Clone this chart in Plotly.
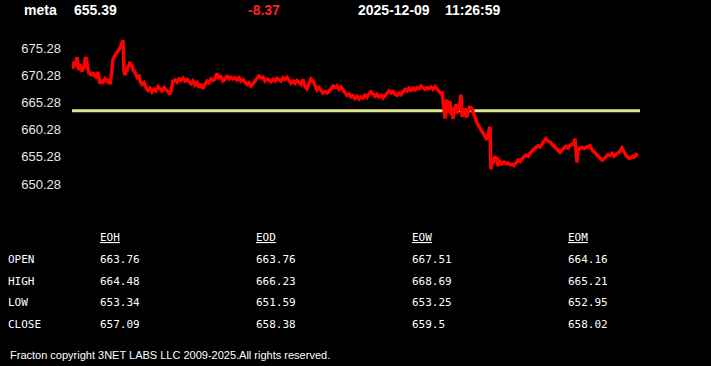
import plotly.graph_objects as go

# ---------------- data ----------------
symbol = "meta"
last_price = "655.39"
change = "-8.37"
date_str = "2025-12-09"
time_str = "11:26:59"
prev_close = 663.76

y_ticks = [650.28, 655.28, 660.28, 665.28, 670.28, 675.28]

t = [0, 1, 2, 3, 4, 5, 6, 7, 8, 9, 10, 11, 12, 13, 14, 15, 16, 17, 18, 19, 21, 23, 24, 25, 26, 27, 28, 29,
     31, 33, 35, 37, 38, 39, 40, 41, 43, 45, 47, 49, 50, 51, 52, 53, 54, 55, 56, 57, 58, 59, 60, 61, 63, 65,
     66, 67, 68, 70, 72, 74, 76, 78, 80, 82, 84, 86, 88, 90, 92, 94, 96, 98, 99, 100, 101, 103, 105, 107,
     109, 111, 113, 115, 117, 119, 121, 123, 125, 127, 129, 131, 133, 135, 137, 139, 141, 143, 145, 147,
     149, 151, 153, 155, 157, 159, 161, 163, 165, 167, 169, 171, 173, 175, 177, 179, 181, 183, 185, 187,
     189, 191, 193, 195, 197, 199, 201, 203, 205, 207, 209, 211, 213, 215, 217, 219, 221, 223, 225, 227,
     229, 231, 233, 235, 237, 239, 241, 243, 245, 247, 249, 251, 253, 255, 257, 259, 261, 263, 265, 267,
     269, 271, 273, 275, 277, 279, 281, 283, 285, 287, 289, 291, 293, 295, 297, 299, 301, 303, 305, 307,
     309, 311, 313, 315, 317, 319, 321, 323, 325, 327, 329, 331, 333, 335, 337, 339, 341, 343, 345, 347,
     349, 351, 353, 355, 357, 359, 361, 363, 365, 367, 369, 370, 371, 372, 373, 374, 375, 376, 377, 378,
     379, 380, 381, 382, 383, 384, 385, 386, 387, 388, 389, 390, 391, 392, 393, 394, 395, 396, 397, 398,
     399, 400, 401, 402, 404, 406, 408, 410, 412, 414, 415, 416, 417, 418, 419, 420, 421, 422, 423, 424,
     425, 426, 428, 430, 432, 434, 436, 438, 440, 442, 444, 446, 448, 450, 452, 454, 456, 458, 460, 462,
     464, 466, 468, 470, 472, 474, 476, 478, 480, 482, 484, 486, 488, 490, 492, 494, 496, 498, 500, 502,
     503, 504, 505, 506, 508, 510, 512, 514, 516, 518, 520, 522, 524, 526, 528, 530, 532, 534, 536, 538,
     540, 542, 544, 546, 548, 550, 552, 554, 556, 558, 560, 562, 564, 566]

price = [672.4, 671.5, 672.8, 671.9, 672.6, 673.6, 672.0, 671.2, 672.3, 671.6, 670.9, 672.0, 671.4, 673.2,
         673.6, 672.5, 671.0, 670.5, 670.9, 670.2, 670.8, 670.0, 670.6, 669.6, 670.9, 669.8, 668.7, 669.4,
         669.0, 669.6, 669.1, 669.5, 668.6, 669.8, 672.4, 673.2, 673.9, 674.5, 675.0, 675.6, 676.3, 676.7,
         671.0, 670.3, 671.2, 671.0, 671.9, 672.1, 672.7, 672.0, 672.2, 671.3, 670.8, 670.2, 669.6, 670.4,
         669.2, 668.6, 668.9, 668.0, 667.5, 667.9, 667.2, 667.7, 667.4, 668.2, 667.9, 667.4, 668.0, 667.6,
         667.2, 666.8, 667.4, 668.2, 669.2, 669.4, 669.0, 669.6, 669.3, 669.7, 669.2, 669.5, 669.0, 668.7,
         669.2, 668.5, 668.9, 668.0, 668.7, 667.8, 668.6, 669.2, 668.9, 669.6, 669.3, 669.6, 670.6, 669.8,
         670.0, 669.2, 669.5, 670.2, 669.6, 669.9, 669.6, 669.8, 669.4, 669.8, 669.2, 669.5, 669.0, 668.6,
         668.9, 668.3, 668.7, 669.3, 669.7, 670.1, 669.8, 669.9, 669.2, 669.6, 669.3, 669.1, 669.5, 669.2,
         669.7, 669.4, 669.2, 669.8, 669.5, 669.9, 669.2, 668.8, 669.2, 668.8, 669.3, 669.0, 668.6, 669.5,
         668.2, 667.8, 668.9, 669.6, 669.2, 668.3, 667.6, 668.0, 667.4, 667.0, 667.3, 667.0, 667.3, 667.8,
         668.3, 668.0, 668.3, 667.7, 668.1, 667.6, 667.2, 666.6, 666.8, 666.3, 666.5, 666.0, 666.4, 665.9,
         666.3, 666.1, 666.6, 666.2, 666.8, 667.2, 666.8, 666.4, 666.8, 666.3, 666.6, 666.1, 666.5, 667.1,
         667.4, 667.0, 667.3, 666.8, 666.6, 667.0, 666.7, 667.2, 667.7, 667.4, 667.9, 667.5, 667.9, 667.6,
         668.0, 667.8, 668.3, 668.0, 667.7, 668.0, 667.8, 668.1, 667.7, 668.2, 667.8, 667.4, 666.9, 667.3,
         665.8, 664.6, 662.3, 664.8, 665.8, 663.4, 664.9, 665.5, 663.0, 664.5, 662.2, 664.0, 663.5, 665.0,
         663.2, 664.3, 663.8, 665.2, 666.7, 662.6, 663.9, 663.0, 664.2, 662.8, 662.6, 663.4, 664.3, 664.6,
         663.9, 664.3, 663.6, 662.9, 662.0, 661.2, 660.6, 660.0, 659.4, 658.9, 658.4, 659.5, 660.3, 660.8,
         653.0, 654.6, 654.0, 654.8, 655.4, 654.3, 655.2, 653.6, 654.4, 654.0, 654.3, 654.0, 654.2, 653.8,
         653.9, 653.7, 654.1, 654.6, 654.4, 655.0, 655.3, 655.6, 655.4, 655.9, 656.4, 656.7, 657.0, 657.3,
         657.1, 657.7, 658.3, 658.6, 658.2, 658.0, 657.6, 657.2, 657.0, 656.5, 656.1, 656.6, 657.0, 657.2,
         656.9, 657.4, 657.5, 657.9, 658.6, 656.8, 654.2, 656.5, 656.9, 657.0, 656.8, 657.0, 657.1, 657.3,
         656.6, 656.2, 655.8, 655.4, 655.0, 654.7, 654.9, 655.3, 655.7, 655.5, 655.9, 655.4, 655.7, 656.0,
         656.3, 656.9, 656.1, 655.6, 655.1, 655.0, 655.3, 655.2, 655.7, 655.39]

t_end = 568

col_headers = ["EOH", "EOD", "EOW", "EOM"]
row_labels = ["OPEN", "HIGH", "LOW", "CLOSE"]
eoh = ["663.76", "664.48", "653.34", "657.09"]
eod = ["663.76", "666.23", "651.59", "658.38"]
eow = ["667.51", "668.69", "653.25", "659.5"]
eom = ["664.16", "665.21", "652.95", "658.02"]
footer = "Fracton copyright 3NET LABS LLC 2009-2025.All rights reserved."

# ---------------- layout helpers ----------------
W, H = 711, 366
L, R, T, B = 72, 71, 38, 172
pw, ph = W - L - R, H - T - B
ppu = 5.44
y_lo = 650.28 - (H - B - 184) / ppu
y_hi = 675.28 + (48 - T) / ppu


def px(x):
    return (x - L) / pw


def py(y):
    return (H - B - y) / ph


fig = go.Figure()
fig.add_trace(go.Scatter(x=[0, t_end], y=[prev_close, prev_close], mode="lines",
                         line=dict(color="#dde68c", width=3), hoverinfo="skip"))
fig.add_trace(go.Scatter(x=t, y=price, mode="lines",
                         line=dict(color="#ff0000", width=3.5), hoverinfo="skip"))

ann = []
hdr_font = dict(family="Liberation Sans, Arial", size=14, color="#ffffff")


def add_text(x, y, text, font):
    ann.append(dict(x=px(x), y=py(y), xref="paper", yref="paper", text=text, showarrow=False,
                    xanchor="left", yanchor="middle", font=font))


add_text(22, 10, f"<b>{symbol}</b>", hdr_font)
add_text(72, 10, f"<b>{last_price}</b>", hdr_font)
add_text(246, 10, f"<b>{change}</b>", dict(hdr_font, color="#ff2020"))
add_text(356, 10, f"<b>{date_str}</b>", hdr_font)
add_text(443, 10, f"<b>{time_str}</b>", hdr_font)

mono = dict(family="DejaVu Sans Mono, Liberation Mono, monospace", size=11, color="#ffffff")
col_x = [98, 254, 410, 566]
row_y = [259, 281, 302, 324]
cols = [eoh, eod, eow, eom]
for cx, h, vals in zip(col_x, col_headers, cols):
    add_text(cx, 238, h, dict(mono, lineposition="under"))
    for ry, v in zip(row_y, vals):
        add_text(cx, ry, v, mono)
for ry, lab in zip(row_y, row_labels):
    add_text(6, ry, lab, mono)

add_text(8, 355, footer, dict(family="Liberation Sans, Arial", size=11, color="#ffffff"))

fig.update_layout(
    width=W, height=H, margin=dict(l=L, r=R, t=T, b=B, pad=0),
    paper_bgcolor="#000000", plot_bgcolor="#000000", showlegend=False,
    xaxis=dict(range=[0, t_end], visible=False, fixedrange=True),
    yaxis=dict(range=[y_lo, y_hi], tickvals=y_ticks, ticktext=[f"{v:.2f}" for v in y_ticks],
               showgrid=False, zeroline=False, showline=False, ticks="", ticklabelstandoff=10,
               tickfont=dict(family="Liberation Sans, Arial", size=13, color="#e6e6e6")),
    annotations=ann,
)
fig.write_html("out.html")
